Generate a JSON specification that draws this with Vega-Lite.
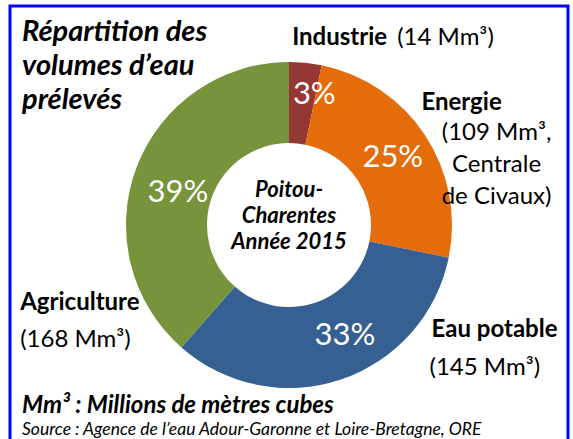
{
  "$schema": "https://vega.github.io/schema/vega-lite/v6.json",
  "width": 558,
  "height": 438,
  "autosize": {"type": "none"},
  "padding": {"left": 10, "top": 6, "right": 5, "bottom": 0},
  "background": "white",
  "view": {"stroke": "#0000FF", "strokeWidth": 3, "fill": "white"},
  "config": {
    "font": "Lato"
  },
  "title": {
    "text": "Mm³ : Millions de mètres cubes",
    "subtitle": "Source : Agence de l’eau Adour-Garonne et Loire-Bretagne, ORE",
    "orient": "bottom",
    "anchor": "start",
    "frame": "group",
    "offset": -50,
    "dx": 12,
    "font": "Lato",
    "fontSize": 24,
    "fontStyle": "italic",
    "fontWeight": "bold",
    "color": "black",
    "subtitleFont": "Lato",
    "subtitleFontSize": 17.5,
    "subtitleFontStyle": "italic",
    "subtitleFontWeight": "normal",
    "subtitleColor": "black",
    "subtitlePadding": 3
  },
  "datasets": {
    "prelevements": [
      {"secteur": "Industrie", "volume": 14, "part": 0.03, "rang": 1, "libelle": "(14 Mm³)"},
      {"secteur": "Energie", "volume": 109, "part": 0.25, "rang": 2, "libelle": "(109 Mm³,\nCentrale\nde Civaux)"},
      {"secteur": "Eau potable", "volume": 145, "part": 0.33, "rang": 3, "libelle": "(145 Mm³)"},
      {"secteur": "Agriculture", "volume": 168, "part": 0.39, "rang": 4, "libelle": "(168 Mm³)"}
    ],
    "centre": [
      {"texte": "Poitou-\nCharentes\nAnnée 2015"}
    ]
  },
  "layer": [
    {
      "data": {"name": "prelevements"},
      "encoding": {
        "theta": {"field": "volume", "type": "quantitative", "stack": true},
        "order": {"field": "rang", "type": "quantitative"}
      },
      "layer": [
        {
          "mark": {"type": "arc", "innerRadius": 82, "outerRadius": 163},
          "encoding": {
            "color": {
              "field": "secteur",
              "type": "nominal",
              "scale": {
                "domain": ["Industrie", "Energie", "Eau potable", "Agriculture"],
                "range": ["#953735", "#E46C0A", "#376092", "#77933C"]
              },
              "legend": {
                "orient": "top-left",
                "offset": 12,
                "title": ["Répartition des", "volumes d’eau", "prélevés"],
                "titleFont": "Lato",
                "titleFontSize": 29,
                "titleFontStyle": "italic",
                "titleFontWeight": "bold",
                "titleLineHeight": 34,
                "titleLimit": 500,
                "titleColor": "black",
                "titlePadding": 0,
                "labelOpacity": 0,
                "symbolOpacity": 0,
                "symbolStrokeWidth": 0,
                "labelFontSize": 1,
                "symbolSize": 1,
                "rowPadding": 0
              }
            }
          }
        },
        {
          "mark": {"type": "text", "clip": true, "radius": 122, "dx": 13, "dy": -9, "fontSize": 31, "color": "white", "baseline": "middle"},
          "encoding": {
            "detail": {"field": "secteur"},
            "text": {"condition": {"test": "datum.secteur === 'Industrie'", "field": "part", "format": ".0%"}, "value": ""}
          }
        },
        {
          "mark": {"type": "text", "clip": true, "radius": 122, "dx": 2, "dy": 0, "fontSize": 31, "color": "white", "baseline": "middle"},
          "encoding": {
            "detail": {"field": "secteur"},
            "text": {"condition": {"test": "datum.secteur === 'Energie'", "field": "part", "format": ".0%"}, "value": ""}
          }
        },
        {
          "mark": {"type": "text", "clip": true, "radius": 122, "dx": 17, "dy": -5, "fontSize": 31, "color": "white", "baseline": "middle"},
          "encoding": {
            "detail": {"field": "secteur"},
            "text": {"condition": {"test": "datum.secteur === 'Eau potable'", "field": "part", "format": ".0%"}, "value": ""}
          }
        },
        {
          "mark": {"type": "text", "clip": true, "radius": 122, "dx": 3, "dy": 11, "fontSize": 31, "color": "white", "baseline": "middle"},
          "encoding": {
            "detail": {"field": "secteur"},
            "text": {"condition": {"test": "datum.secteur === 'Agriculture'", "field": "part", "format": ".0%"}, "value": ""}
          }
        },
        {
          "mark": {"type": "text", "clip": true, "radius": 190, "dx": -16, "dy": 9, "fontSize": 24, "fontWeight": "bold", "color": "black", "align": "left", "baseline": "alphabetic"},
          "encoding": {
            "detail": {"field": "secteur"},
            "text": {"condition": {"test": "datum.secteur === 'Industrie'", "field": "secteur"}, "value": ""}
          }
        },
        {
          "mark": {"type": "text", "clip": true, "radius": 190, "dx": 89, "dy": 9, "fontSize": 24, "color": "black", "align": "left", "baseline": "alphabetic"},
          "encoding": {
            "detail": {"field": "secteur"},
            "text": {"condition": {"test": "datum.secteur === 'Industrie'", "field": "libelle"}, "value": ""}
          }
        },
        {
          "mark": {"type": "text", "clip": true, "radius": 190, "dx": 14, "dy": -10, "fontSize": 24, "fontWeight": "bold", "color": "black", "align": "center", "baseline": "alphabetic"},
          "encoding": {
            "detail": {"field": "secteur"},
            "text": {"condition": {"test": "datum.secteur === 'Energie'", "field": "secteur"}, "value": ""}
          }
        },
        {
          "mark": {"type": "text", "clip": true, "radius": 190, "dx": 49, "dy": 20, "fontSize": 24, "color": "black", "align": "center", "baseline": "alphabetic", "lineBreak": "\n", "lineHeight": 32},
          "encoding": {
            "detail": {"field": "secteur"},
            "text": {"condition": {"test": "datum.secteur === 'Energie'", "field": "libelle"}, "value": ""}
          }
        },
        {
          "mark": {"type": "text", "clip": true, "radius": 190, "dx": 82, "dy": -68, "fontSize": 24, "fontWeight": "bold", "color": "black", "align": "left", "baseline": "alphabetic"},
          "encoding": {
            "detail": {"field": "secteur"},
            "text": {"condition": {"test": "datum.secteur === 'Eau potable'", "field": "secteur"}, "value": ""}
          }
        },
        {
          "mark": {"type": "text", "clip": true, "radius": 190, "dx": 80, "dy": -30, "fontSize": 24, "color": "black", "align": "left", "baseline": "alphabetic"},
          "encoding": {
            "detail": {"field": "secteur"},
            "text": {"condition": {"test": "datum.secteur === 'Eau potable'", "field": "libelle"}, "value": ""}
          }
        },
        {
          "mark": {"type": "text", "clip": true, "radius": 190, "dx": -91, "dy": 152, "fontSize": 24, "fontWeight": "bold", "color": "black", "align": "left", "baseline": "alphabetic"},
          "encoding": {
            "detail": {"field": "secteur"},
            "text": {"condition": {"test": "datum.secteur === 'Agriculture'", "field": "secteur"}, "value": ""}
          }
        },
        {
          "mark": {"type": "text", "clip": true, "radius": 190, "dx": -91, "dy": 189, "fontSize": 24, "color": "black", "align": "left", "baseline": "alphabetic"},
          "encoding": {
            "detail": {"field": "secteur"},
            "text": {"condition": {"test": "datum.secteur === 'Agriculture'", "field": "libelle"}, "value": ""}
          }
        }
      ]
    },
    {
      "data": {"name": "centre"},
      "mark": {"type": "text", "clip": true, "fontSize": 22, "fontStyle": "italic", "fontWeight": "bold", "color": "black", "align": "center", "baseline": "middle", "lineBreak": "\n", "lineHeight": 26, "dy": -35},
      "encoding": {
        "text": {"field": "texte"}
      }
    }
  ]
}
